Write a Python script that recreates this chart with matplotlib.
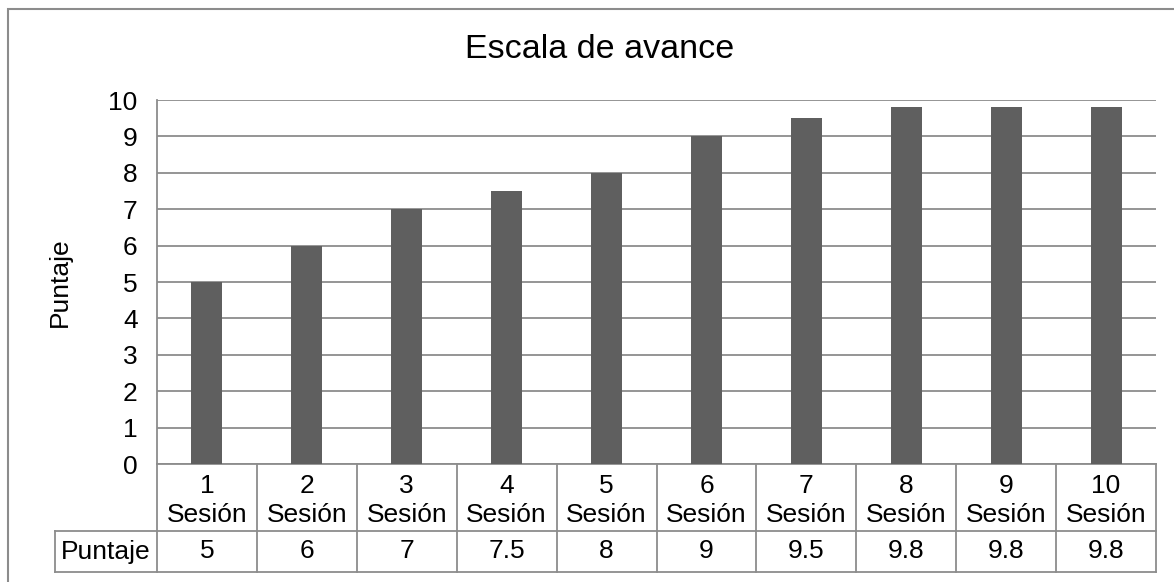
import numpy as np
import matplotlib.pyplot as plt
import matplotlib.transforms as mtransforms
from matplotlib.patches import Rectangle

# data
sesiones = ["1", "2", "3", "4", "5", "6", "7", "8", "9", "10"]
puntaje = [5, 6, 7, 7.5, 8, 9, 9.5, 9.8, 9.8, 9.8]
puntaje_txt = ["5", "6", "7", "7.5", "8", "9", "9.5", "9.8", "9.8", "9.8"]
yticks = [0, 1, 2, 3, 4, 5, 6, 7, 8, 9, 10]

plt.rcParams['font.family'] = ['Liberation Sans', 'DejaVu Sans']

W, H = 1174, 582
fs = 19
fig = plt.figure(figsize=(W / 100, H / 100), dpi=100)

# outer border (only top and left visible in the reference)
fig.patches.append(Rectangle((8 / W, -0.1), 1.2, 1 - 9 / H + 0.1, transform=fig.transFigure,
                             fill=False, edgecolor="#8c8c8c", linewidth=1.5))

left, right, top, bottom = 157, 1156, 100, 464
ax = fig.add_axes([left / W, 1 - bottom / H, (right - left) / W, (bottom - top) / H])

x = np.arange(len(sesiones))
ax.bar(x, puntaje, width=0.31, color="#5f5f5f", zorder=3)

ax.set_xlim(-0.5, len(sesiones) - 0.5)
ax.set_ylim(0, 10)
ax.set_yticks(yticks)
ax.set_yticklabels([str(t) for t in yticks], fontsize=fs)
ax.tick_params(axis="y", length=0, pad=14)
ax.set_xticks([])
ax.grid(axis="y", color="#8c8c8c", linewidth=1.3, zorder=0)
for s in ["top", "right", "bottom"]:
    ax.spines[s].set_visible(False)
ax.spines["left"].set_color("#8c8c8c")
ax.spines["left"].set_linewidth(1.3)

fig.text(60 / W, 1 - 282 / H, "Puntaje", fontsize=fs, rotation=90, ha="center", va="center")
fig.text(600 / W, 1 - 49 / H, "Escala de avance", fontsize=24.5, ha="center", va="center")

# data table below the axes
trans = mtransforms.blended_transform_factory(ax.transData, ax.transAxes)
ph = bottom - top
r1 = -(531 - bottom) / ph
r2 = -(572 - bottom) / ph
lc = "#8c8c8c"
lw = 1.3
n = len(sesiones)
x0 = -0.5 - (left - 55) / ((right - left) / n)

def hline(xa, xb, y):
    ax.plot([xa, xb], [y, y], color=lc, lw=lw, transform=trans, clip_on=False)

def vline(xx, ya, yb):
    ax.plot([xx, xx], [ya, yb], color=lc, lw=lw, transform=trans, clip_on=False)

hline(-0.5, n - 0.5, 0)
hline(x0, n - 0.5, r1)
hline(x0, n - 0.5, r2)
vline(x0, r1, r2)
for i in range(n + 1):
    vline(i - 0.5, 0, r2)

for i in range(n):
    ax.text(i, r1 / 2 - 3 / ph, sesiones[i] + "\nSesión", transform=trans, ha="center",
            va="center", fontsize=fs, linespacing=1.3)
    ax.text(i, (r1 + r2) / 2, puntaje_txt[i], transform=trans, ha="center", va="center",
            fontsize=fs)
ax.text((x0 - 0.5) / 2, (r1 + r2) / 2, "Puntaje", transform=trans, ha="center", va="center",
        fontsize=fs)

fig.savefig("out.png", dpi=100)
